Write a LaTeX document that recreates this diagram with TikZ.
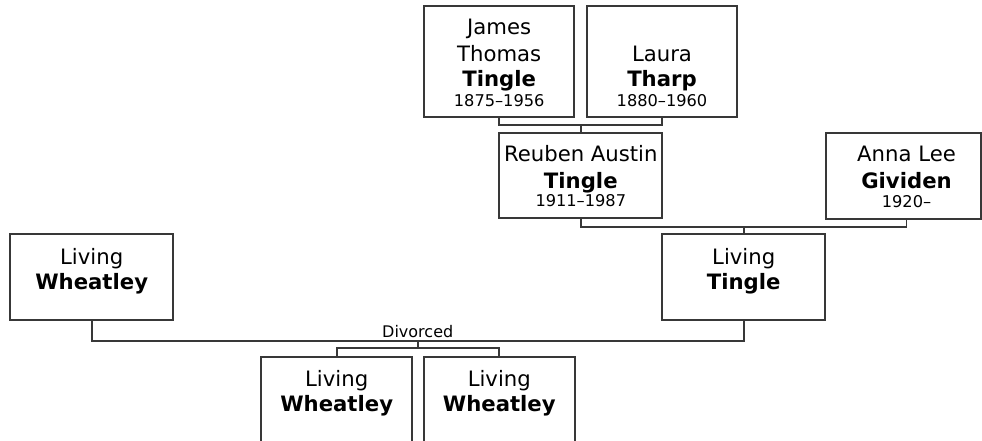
\documentclass[tikz,border=0pt]{standalone}
\usepackage{fontspec}
\setmainfont{DejaVu Sans}
\definecolor{lc}{RGB}{56,56,56}
\newcommand\pbox[5]{\node[box, minimum width={#4pt-#2pt}, minimum height={#5pt-#3pt}] (#1) at (#2,#3) {};}
\begin{document}
\begin{tikzpicture}[x=1pt,y=-1pt,
  box/.style={draw=lc, line width=1.8pt, inner sep=0pt, outer sep=0pt, anchor=north west, rectangle},
  conn/.style={draw=lc, line width=1.8pt},
  nm/.style={inner sep=0pt, anchor=base, font=\fontsize{21.2}{24}\selectfont},
  sn/.style={inner sep=0pt, anchor=base, font=\fontsize{21.2}{24}\selectfont\bfseries},
  dt/.style={inner sep=0pt, anchor=base, font=\fontsize{16.2}{18}\selectfont},
  dv/.style={inner sep=0pt, anchor=base, font=\fontsize{16}{18}\selectfont}]
\clip (0,0) rectangle (982,441);
\useasboundingbox (0,0) rectangle (982,441);
% boxes
\pbox{J}{424}{5.7}{574.3}{117}
\pbox{L}{586.7}{5.7}{737.3}{117}
\pbox{R}{499.3}{133}{662.3}{218.3}
\pbox{A}{825.7}{133.3}{981.1}{218.7}
\pbox{T}{662}{234.3}{825.3}{320}
\pbox{W}{10}{234.3}{173.3}{320}
\pbox{C1}{261}{356.7}{412.3}{470}
\pbox{C2}{423.7}{356.7}{575}{470}
% texts
\node[nm] (j1) at (499.2,35) {James};
\node[nm] (j2) at (499.2,61.7) {Thomas};
\node[sn] (j3) at (499.2,87) {Tingle};
\node[dt] (j4) at (499.2,106.8) {1875–1956};
\node[nm] (l1) at (662,61.7) {Laura};
\node[sn] (l2) at (662,87) {Tharp};
\node[dt] (l3) at (662,106.8) {1880–1960};
\node[nm] (r1) at (580.8,161.7) {Reuben Austin};
\node[sn] (r2) at (580.8,188.3) {Tingle};
\node[dt] (r3) at (580.8,206.7) {1911–1987};
\node[nm] (a1) at (906.5,161.7) {Anna Lee};
\node[sn] (a2) at (906.5,188.3) {Gividen};
\node[dt] (a3) at (906.5,207.3) {1920–};
\node[nm] (t1) at (743.7,264) {Living};
\node[sn] (t2) at (743.7,289) {Tingle};
\node[nm] (w1) at (91.7,264) {Living};
\node[sn] (w2) at (91.7,289) {Wheatley};
\node[nm] (c11) at (336.7,386) {Living};
\node[sn] (c12) at (336.7,411.5) {Wheatley};
\node[nm] (c21) at (499.3,386) {Living};
\node[sn] (c22) at (499.3,411.5) {Wheatley};
% connectors
\draw[conn] (J.south) -- ++(0,8) -| (L.south);
\draw[conn] (R.north) -- ++(0,-8);
\coordinate (Ab) at ([xshift=3pt]A.south);
\draw[conn] (R.south) -- ++(0,8.4) -| (Ab);
\draw[conn] (T.north) -- ++(0,-7.6);
\draw[conn] (W.south) -- ++(0,21) -| (T.south);
\node[dv] (div) at (417.7,337.5) {Divorced};
\coordinate (m) at (417.7,341);
\draw[conn] (m) -- ++(0,7.3);
\draw[conn] (C1.north) -- ++(0,-8.4) -| (C2.north);
\end{tikzpicture}
\end{document}
